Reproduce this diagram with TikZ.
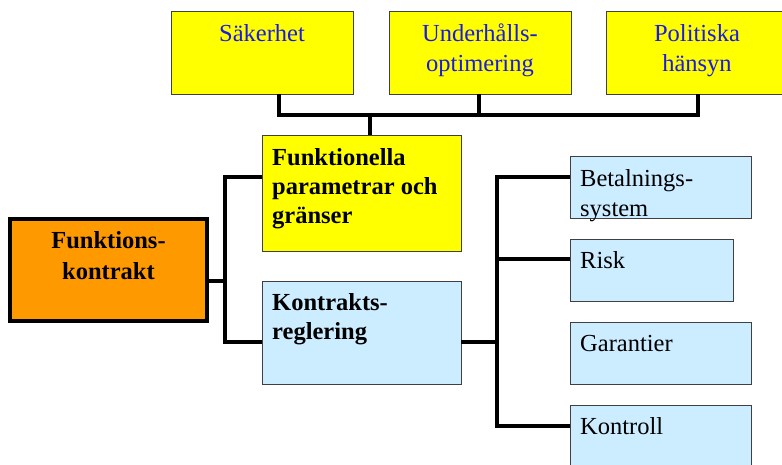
\documentclass[tikz,border=0pt]{standalone}
\usepackage{fontspec}
\newfontfamily\garafont{Liberation Serif}
\definecolor{ylw}{HTML}{FFFF00}
\definecolor{org}{HTML}{FF9900}
\definecolor{lblue}{HTML}{CCECFF}
\definecolor{txtblue}{HTML}{1A1AE6}
\definecolor{edge}{HTML}{404040}
\tikzset{
  box/.style={draw=edge, line width=0.9pt, inner sep=0pt, outer sep=0pt, anchor=north west},
  ybox/.style={box, fill=ylw},
  bbox/.style={box, fill=lblue},
  obox/.style={box, fill=org, draw=black, line width=4.3pt},
  lbl/.style={inner sep=0pt, font=\garafont\fontsize{24.5}{29.5}\selectfont},
  lblc/.style={lbl, anchor=north, align=center, text=txtblue},
  lbll/.style={lbl, anchor=north west, align=left},
  conn/.style={draw=black, line width=3.3pt},
}
\begin{document}
\begin{tikzpicture}[x=1pt,y=-1pt]
\clip (0,0) rectangle (782,464);
\fill[white] (0,0) rectangle (782,464);
% top boxes
\node[ybox, minimum width=182pt, minimum height=83pt] (S) at (171,11) {};
\node[ybox, minimum width=182pt, minimum height=83pt] (U) at (389,11) {};
\node[ybox, minimum width=182pt, minimum height=83pt] (P) at (606,11) {};
\node[lblc] (St) at (262,24.3) {Säkerhet};
\node[lblc] (Ut) at (480,23.6) {Underhålls-\\optimering};
\node[lblc] (Pt) at (697,24.3) {Politiska\\hänsyn};
% middle
\node[ybox, minimum width=199pt, minimum height=116pt] (F) at (262,135) {};
\node[bbox, minimum width=199pt, minimum height=103pt] (R) at (262,281) {};
\node[lbll, font=\garafont\bfseries\fontsize{24.5}{29}\selectfont] (Ft) at (272,148.4) {Funktionella\\parametrar och\\gränser};
\node[lbll, font=\garafont\bfseries\fontsize{24.5}{29}\selectfont] (Rt) at (272,293.4) {Kontrakts-\\reglering};
% left
\node[obox, minimum width=196.7pt, minimum height=101.7pt] (K) at (10.15,219.15) {};
\node[lbl, anchor=north, align=center, font=\garafont\bfseries\fontsize{24.5}{31}\selectfont] (Kt) at (108.5,231.4) {Funktions-\\kontrakt};
% right
\node[bbox, minimum width=181pt, minimum height=62pt] (B) at (570,156) {};
\node[bbox, minimum width=163pt, minimum height=62pt] (Ri) at (570,239) {};
\node[bbox, minimum width=181pt, minimum height=62pt] (G) at (570,322) {};
\node[bbox, minimum width=181pt, minimum height=80pt] (Ko) at (570,405) {};
\node[lbll] (Bt) at (580,169.3) {Betalnings-\\system};
\node[lbll] (Rit) at (580,251.3) {Risk};
\node[lbll] (Gt) at (580,335.3) {Garantier};
\node[lbll] (Kot) at (580,417.3) {Kontroll};
% connector junctions
\coordinate (tb1) at (279,115);
\coordinate (tb2) at (479,115);
\coordinate (tb3) at (698,115);
\coordinate (tf) at (370,115);
\coordinate (lj) at (225,281);
\coordinate (lt) at (225,177);
\coordinate (lb) at (225,342);
\coordinate (rj) at (497,342);
\coordinate (r1) at (497,177);
\coordinate (r2) at (497,259);
\coordinate (r4) at (497,426);
% connectors
\draw[conn] (S.south -| tb1) -- (tb1) -- (tb3) -- (P.south -| tb3);
\draw[conn] (U.south -| tb2) -- (tb2);
\draw[conn] (tf) -- (F.north -| tf);
\draw[conn] (K.east |- lj) -- (lj);
\draw[conn] (F.west |- lt) -- (lt) -- (lb) -- (R.west |- lb);
\draw[conn] (R.east |- rj) -- (rj);
\draw[conn] (B.west |- r1) -- (r1) -- (r4) -- (Ko.west |- r4);
\draw[conn] (r2) -- (Ri.west |- r2);
\end{tikzpicture}
\end{document}
